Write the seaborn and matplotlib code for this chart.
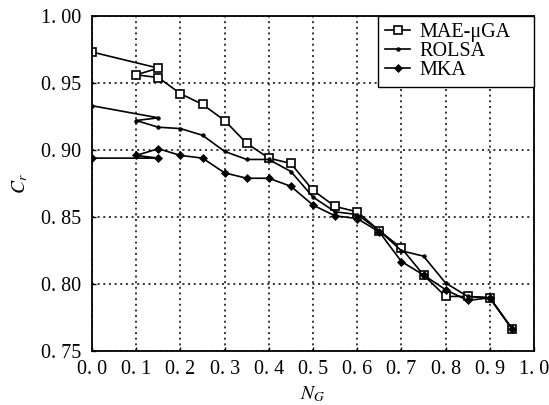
import matplotlib
matplotlib.use("Agg")
import matplotlib.pyplot as plt
import seaborn as sns
import pandas as pd
from matplotlib.ticker import FixedLocator, FixedFormatter

# ---- data ----
ng = [0.0, 0.15, 0.10, 0.15, 0.20, 0.25, 0.30, 0.35, 0.40, 0.45,
      0.50, 0.55, 0.60, 0.65, 0.70, 0.75, 0.80, 0.85, 0.90, 0.95]
mae_ga = [0.973, 0.961, 0.956, 0.954, 0.942, 0.934, 0.922, 0.905, 0.894, 0.890,
          0.870, 0.858, 0.854, 0.840, 0.827, 0.807, 0.791, 0.791, 0.790, 0.767]
rolsa = [0.933, 0.924, 0.922, 0.917, 0.916, 0.911, 0.899, 0.893, 0.893, 0.884,
         0.865, 0.854, 0.852, 0.840, 0.825, 0.821, 0.801, 0.791, 0.790, 0.767]
mka = [0.894, 0.894, 0.896, 0.901, 0.896, 0.894, 0.883, 0.879, 0.879, 0.873,
       0.859, 0.851, 0.849, 0.839, 0.817, 0.807, 0.796, 0.788, 0.790, 0.767]
series_names = ["MAE-\u03bcGA", "ROLSA", "MKA"]

x_ticks = [0.0, 0.1, 0.2, 0.3, 0.4, 0.5, 0.6, 0.7, 0.8, 0.9, 1.0]
x_tick_labels = ["0. 0", "0. 1", "0. 2", "0. 3", "0. 4", "0. 5",
                 "0. 6", "0. 7", "0. 8", "0. 9", "1. 0"]
y_ticks = [0.75, 0.80, 0.85, 0.90, 0.95, 1.00]
y_tick_labels = ["0. 75", "0. 80", "0. 85", "0. 90", "0. 95", "1. 00"]

plt.rcParams["font.family"] = ["Liberation Serif", "DejaVu Serif"]
plt.rcParams["mathtext.fontset"] = "stix"

fig = plt.figure(figsize=(5.49, 4.05), dpi=100)
ax = fig.add_axes([0.1676, 0.1321, 0.8051, 0.829])

styles = [
    dict(marker="s", markersize=6, markerfacecolor="white",
         markeredgecolor="black", markeredgewidth=1.2),
    dict(marker="o", markersize=2.6, markerfacecolor="black",
         markeredgecolor="black", markeredgewidth=0.5),
    dict(marker="D", markersize=4.5, markerfacecolor="black",
         markeredgecolor="black", markeredgewidth=0.5),
]
for name, vals, st in zip(series_names, [mae_ga, rolsa, mka], styles):
    df = pd.DataFrame({"NG": ng, "Cr": vals})
    sns.lineplot(data=df, x="NG", y="Cr", sort=False, estimator=None,
                 color="black", linewidth=1.2, label=name, ax=ax, **st)

ax.set_xlim(0, 1.0)
ax.set_ylim(0.75, 1.0)
ax.xaxis.set_major_locator(FixedLocator(x_ticks))
ax.xaxis.set_major_formatter(FixedFormatter(x_tick_labels))
ax.yaxis.set_major_locator(FixedLocator(y_ticks))
ax.yaxis.set_major_formatter(FixedFormatter(y_tick_labels))
ax.tick_params(direction="in", length=3, width=1, labelsize=14.5,
               colors="black")
ax.tick_params(axis="y", pad=8)
ax.tick_params(axis="x", pad=6)
ax.grid(True, color="black", linestyle=(0, (1.3, 2.4)), linewidth=1.1)
for s in ax.spines.values():
    s.set_linewidth(1.3)
    s.set_color("black")

ax.set_xlabel("$N_G$", fontsize=14, labelpad=4)
ax.set_ylabel("$C_r$", fontsize=14, labelpad=8)

leg = ax.legend(loc="upper left", bbox_to_anchor=(0.647, 0.0, 0.353, 1.0),
                mode="expand", fontsize=14.5,
                frameon=True, fancybox=False, edgecolor="black",
                handlelength=1.25, handletextpad=0.45, labelspacing=0.0,
                borderpad=0.35, borderaxespad=0.0)
leg.get_frame().set_linewidth(1.0)
leg.get_frame().set_alpha(1.0)

fig.savefig("out.png", dpi=100)
